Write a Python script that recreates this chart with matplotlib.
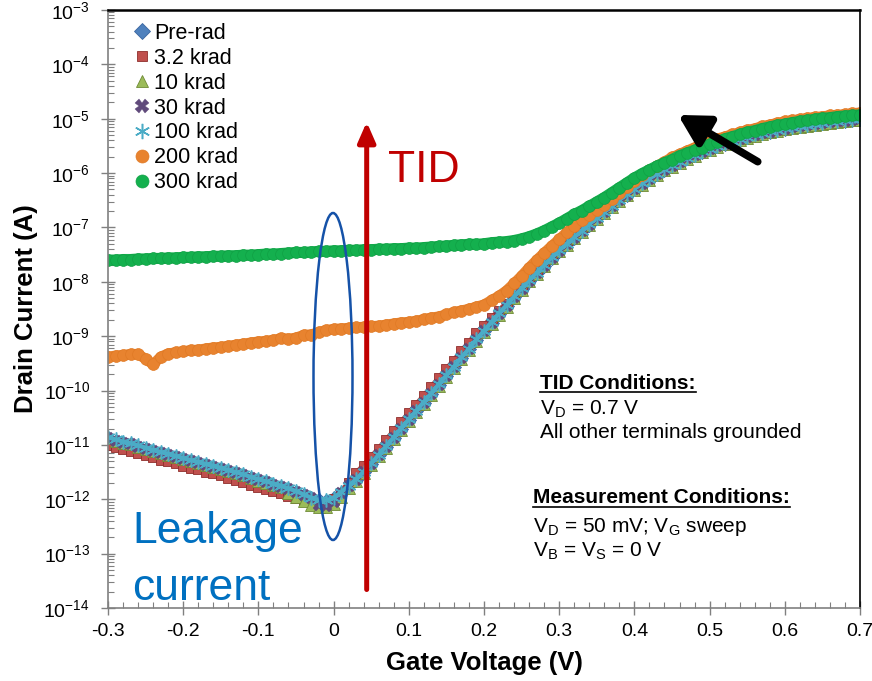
import numpy as np
import matplotlib
matplotlib.use("Agg")
import matplotlib.pyplot as plt
from matplotlib.patches import Ellipse
from matplotlib.lines import Line2D

plt.rcParams['font.family'] = ['Liberation Sans', 'DejaVu Sans']
plt.rcParams['mathtext.default'] = 'regular'

# gate voltage sweep, 10 mV steps from -0.3 V to 0.7 V
vg = np.linspace(-0.3, 0.7, 101)

# log10 of drain current (A), one value per sweep point
logI_prerad = [
    -10.88, -10.92, -10.96, -10.99, -11.03, -11.07, -11.11, -11.15, -11.18, -11.22,
    -11.26, -11.30, -11.33, -11.37, -11.40, -11.44, -11.48, -11.52, -11.56, -11.61,
    -11.65, -11.69, -11.73, -11.77, -11.82, -11.86, -11.92, -11.98, -12.02, -12.03,
    -11.98, -11.88, -11.76, -11.64, -11.50, -11.35, -11.19, -11.03, -10.87, -10.70,
    -10.54, -10.38, -10.22, -10.06, -9.89, -9.73, -9.57, -9.40, -9.24, -9.07,
    -8.91, -8.75, -8.59, -8.44, -8.28, -8.13, -7.98, -7.84, -7.70, -7.56,
    -7.43, -7.31, -7.19, -7.07, -6.95, -6.83, -6.72, -6.61, -6.50, -6.40,
    -6.30, -6.20, -6.11, -6.02, -5.94, -5.87, -5.80, -5.73, -5.67, -5.61,
    -5.56, -5.51, -5.46, -5.42, -5.38, -5.34, -5.30, -5.27, -5.24, -5.21,
    -5.18, -5.16, -5.14, -5.12, -5.10, -5.08, -5.06, -5.05, -5.04, -5.02,
    -5.01]

logI_3k2 = [
    -11.00, -11.04, -11.08, -11.11, -11.15, -11.19, -11.23, -11.27, -11.30, -11.34,
    -11.38, -11.42, -11.45, -11.49, -11.52, -11.56, -11.60, -11.64, -11.68, -11.73,
    -11.77, -11.81, -11.85, -11.89, -11.94, -11.98, -12.02, -12.04, -12.06, -12.06,
    -12.00, -11.88, -11.70, -11.52, -11.38, -11.23, -11.07, -10.91, -10.75, -10.58,
    -10.42, -10.26, -10.10, -9.94, -9.77, -9.61, -9.45, -9.28, -9.12, -8.95,
    -8.81, -8.67, -8.53, -8.40, -8.26, -8.12, -7.98, -7.84, -7.70, -7.56,
    -7.43, -7.31, -7.19, -7.07, -6.95, -6.83, -6.72, -6.61, -6.50, -6.40,
    -6.30, -6.20, -6.11, -6.02, -5.94, -5.87, -5.80, -5.73, -5.67, -5.61,
    -5.56, -5.51, -5.46, -5.42, -5.38, -5.34, -5.30, -5.27, -5.24, -5.21,
    -5.18, -5.16, -5.14, -5.12, -5.10, -5.08, -5.06, -5.05, -5.04, -5.02,
    -5.01]

logI_10k = [
    -10.88, -10.92, -10.96, -10.99, -11.03, -11.07, -11.11, -11.15, -11.18, -11.22,
    -11.26, -11.30, -11.33, -11.37, -11.40, -11.44, -11.48, -11.52, -11.56, -11.61,
    -11.66, -11.70, -11.74, -11.78, -11.88, -11.96, -12.04, -12.10, -12.14, -12.14,
    -12.08, -11.96, -11.80, -11.66, -11.52, -11.37, -11.21, -11.05, -10.89, -10.72,
    -10.56, -10.40, -10.24, -10.08, -9.91, -9.75, -9.59, -9.42, -9.26, -9.09,
    -8.93, -8.77, -8.61, -8.46, -8.30, -8.15, -7.99, -7.85, -7.71, -7.57,
    -7.44, -7.32, -7.20, -7.08, -6.96, -6.84, -6.73, -6.62, -6.51, -6.41,
    -6.31, -6.21, -6.12, -6.03, -5.95, -5.88, -5.81, -5.74, -5.68, -5.62,
    -5.57, -5.52, -5.47, -5.43, -5.39, -5.35, -5.31, -5.28, -5.25, -5.22,
    -5.19, -5.17, -5.15, -5.13, -5.11, -5.09, -5.07, -5.06, -5.05, -5.03,
    -5.02]

logI_30k = [
    -10.88, -10.92, -10.96, -10.99, -11.03, -11.07, -11.11, -11.15, -11.18, -11.22,
    -11.26, -11.30, -11.33, -11.37, -11.40, -11.44, -11.48, -11.52, -11.56, -11.61,
    -11.65, -11.69, -11.73, -11.77, -11.82, -11.86, -11.92, -11.98, -12.10, -12.12,
    -12.05, -11.88, -11.76, -11.64, -11.50, -11.35, -11.19, -11.03, -10.87, -10.70,
    -10.54, -10.38, -10.22, -10.06, -9.89, -9.73, -9.57, -9.40, -9.24, -9.07,
    -8.91, -8.75, -8.59, -8.44, -8.28, -8.13, -7.98, -7.84, -7.70, -7.56,
    -7.43, -7.31, -7.19, -7.07, -6.95, -6.83, -6.72, -6.61, -6.50, -6.40,
    -6.30, -6.20, -6.11, -6.02, -5.94, -5.87, -5.80, -5.73, -5.67, -5.61,
    -5.56, -5.51, -5.46, -5.42, -5.38, -5.34, -5.30, -5.27, -5.24, -5.21,
    -5.18, -5.16, -5.14, -5.12, -5.10, -5.08, -5.06, -5.05, -5.04, -5.02,
    -5.01]

logI_100k = [
    -10.86, -10.90, -10.94, -10.97, -11.01, -11.05, -11.09, -11.13, -11.16, -11.20,
    -11.24, -11.28, -11.31, -11.35, -11.38, -11.42, -11.46, -11.50, -11.54, -11.59,
    -11.63, -11.67, -11.71, -11.75, -11.80, -11.85, -11.91, -11.97, -12.01, -12.02,
    -11.97, -11.87, -11.75, -11.63, -11.49, -11.34, -11.18, -11.02, -10.86, -10.69,
    -10.53, -10.37, -10.21, -10.05, -9.88, -9.72, -9.56, -9.39, -9.23, -9.06,
    -8.90, -8.74, -8.58, -8.43, -8.27, -8.12, -7.97, -7.83, -7.69, -7.55,
    -7.42, -7.30, -7.18, -7.06, -6.94, -6.82, -6.71, -6.60, -6.49, -6.39,
    -6.29, -6.19, -6.10, -6.01, -5.93, -5.86, -5.79, -5.72, -5.66, -5.60,
    -5.55, -5.50, -5.45, -5.41, -5.37, -5.33, -5.29, -5.26, -5.23, -5.20,
    -5.17, -5.15, -5.13, -5.11, -5.09, -5.07, -5.05, -5.04, -5.03, -5.01,
    -5.00]

logI_200k = [
    -9.38, -9.36, -9.35, -9.33, -9.33, -9.42, -9.52, -9.38, -9.32, -9.30,
    -9.28, -9.26, -9.25, -9.23, -9.21, -9.20, -9.18, -9.16, -9.14, -9.12,
    -9.10, -9.09, -9.07, -9.04, -9.05, -9.03, -8.98, -8.97, -8.93, -8.89,
    -8.87, -8.86, -8.85, -8.84, -8.83, -8.82, -8.81, -8.79, -8.77, -8.75,
    -8.74, -8.72, -8.69, -8.66, -8.64, -8.60, -8.56, -8.53, -8.50, -8.46,
    -8.42, -8.34, -8.26, -8.16, -8.03, -7.89, -7.74, -7.60, -7.47, -7.34,
    -7.22, -7.09, -6.97, -6.87, -6.77, -6.67, -6.58, -6.47, -6.36, -6.25,
    -6.14, -6.04, -5.95, -5.87, -5.79, -5.71, -5.65, -5.59, -5.53, -5.47,
    -5.42, -5.37, -5.33, -5.29, -5.25, -5.21, -5.18, -5.14, -5.11, -5.08,
    -5.05, -5.03, -5.01, -4.99, -4.97, -4.96, -4.94, -4.93, -4.92, -4.90,
    -4.89]

logI_300k = [
    -7.60, -7.60, -7.59, -7.59, -7.58, -7.58, -7.57, -7.57, -7.56, -7.56,
    -7.55, -7.55, -7.54, -7.54, -7.53, -7.53, -7.52, -7.52, -7.51, -7.51,
    -7.50, -7.49, -7.49, -7.48, -7.47, -7.46, -7.46, -7.45, -7.44, -7.44,
    -7.43, -7.43, -7.42, -7.42, -7.41, -7.41, -7.40, -7.40, -7.39, -7.39,
    -7.38, -7.38, -7.37, -7.36, -7.35, -7.34, -7.33, -7.32, -7.31, -7.31,
    -7.30, -7.28, -7.27, -7.26, -7.24, -7.21, -7.17, -7.12, -7.06, -6.99,
    -6.92, -6.84, -6.76, -6.69, -6.61, -6.53, -6.45, -6.36, -6.27, -6.18,
    -6.09, -6.01, -5.94, -5.87, -5.81, -5.75, -5.68, -5.63, -5.58, -5.53,
    -5.47, -5.42, -5.37, -5.33, -5.29, -5.25, -5.22, -5.18, -5.15, -5.12,
    -5.10, -5.07, -5.05, -5.03, -5.01, -4.99, -4.98, -4.96, -4.95, -4.94,
    -4.93]

series_labels = ["Pre-rad", "3.2 krad", "10 krad", "30 krad", "100 krad", "200 krad", "300 krad"]
series_logI = [logI_prerad, logI_3k2, logI_10k, logI_30k, logI_100k, logI_200k, logI_300k]

xticks = [-0.3, -0.2, -0.1, 0.0, 0.1, 0.2, 0.3, 0.4, 0.5, 0.6, 0.7]
xtick_labels = ["-0.3", "-0.2", "-0.1", "0", "0.1", "0.2", "0.3", "0.4", "0.5", "0.6", "0.7"]
ytick_exps = [-14, -13, -12, -11, -10, -9, -8, -7, -6, -5, -4, -3]

# marker style plus the width of the band the dense markers form
styles = [
    dict(marker='D', ms=7, mfc='#4F81BD', mec='#3A66A0', mew=0.6, color='#4F81BD', lw=4),
    dict(marker='s', ms=7, mfc='#C0504D', mec='#8E2E2C', mew=0.6, color='#B5403D', lw=4),
    dict(marker='^', ms=8, mfc='#9BBB59', mec='#6E8A35', mew=0.6, color='#8AAA48', lw=4),
    dict(marker='X', ms=9, mfc='#604A7B', mec='#604A7B', mew=0.3, color='#6A5A88', lw=4),
    dict(marker=(6, 2, 0), ms=10, mfc='none', mec='#4BACC6', mew=1.1, color='#4BACC6', lw=3),
    dict(marker='o', ms=8.5, mfc='#E8832F', mec='#E07A25', mew=0.5, color='#E8832F', lw=7.5),
    dict(marker='o', ms=8.5, mfc='#14B04E', mec='#10A045', mew=0.5, color='#14B04E', lw=8),
]

W, H = 872, 681
fig = plt.figure(figsize=(W / 100, H / 100), dpi=100)
ax = fig.add_axes([108 / W, 1 - 608 / H, (860 - 108) / W, (608 - 10) / H])

handles = []
for lab, logI, st in zip(series_labels, series_logI, styles):
    st = dict(st)
    band_color, band_lw = st.pop('color'), st.pop('lw')
    ax.plot(vg, 10.0 ** np.array(logI), ls='-', color=band_color, lw=band_lw,
            solid_capstyle='round')
    h, = ax.plot(vg, 10.0 ** np.array(logI), ls='none', label=lab, **st)
    handles.append(h)

ax.set_yscale('log')
ax.set_xlim(-0.3, 0.7)
ax.set_ylim(1e-14, 1e-3)
ax.set_xticks(xticks)
ax.set_xticklabels(xtick_labels, fontsize=14)
ax.set_xticks(np.arange(-0.3, 0.7001, 0.02), minor=True)
ax.set_yticks([10.0 ** e for e in ytick_exps])
ax.set_yticklabels([f"$10^{{{e}}}$" for e in ytick_exps], fontsize=14)
ax.yaxis.set_minor_locator(matplotlib.ticker.LogLocator(base=10, subs=np.arange(2, 10), numticks=20))
ax.yaxis.set_minor_formatter(matplotlib.ticker.NullFormatter())

ax.tick_params(which='major', direction='inout', length=10, width=1, color='#808080')
ax.tick_params(axis='y', which='major', pad=8)
ax.tick_params(axis='x', which='major', pad=6)
ax.tick_params(which='minor', direction='in', length=4, width=0.8, color='#808080')
for side in ['left', 'bottom']:
    ax.spines[side].set_color('#808080')
    ax.spines[side].set_linewidth(1.2)
ax.spines['top'].set_linewidth(1.8)
ax.spines['right'].set_linewidth(1.2)

ax.set_xlabel("Gate Voltage (V)", fontsize=18.5, fontweight='bold')
ax.set_ylabel("Drain Current (A)", fontsize=18.5, fontweight='bold')
ax.xaxis.set_label_coords(0.5, (608 - 651) / 598)
ax.yaxis.set_label_coords((38 - 108) / 752, 0.5)

leg = ax.legend(handles=handles, loc='upper left', bbox_to_anchor=(134 / W, 1 - 23 / H),
                bbox_transform=fig.transFigure, frameon=False, fontsize=15.5,
                handlelength=0.7, handletextpad=0.25, labelspacing=0.18,
                borderpad=0, borderaxespad=0, numpoints=1, markerscale=1.1)

# red TID arrow
ax.annotate('', xy=(0.044, 10 ** -5.06), xytext=(0.044, 10 ** -13.66),
            arrowprops=dict(arrowstyle='-|>,head_width=0.35,head_length=0.8',
                            lw=3.6, color='#C00000', mutation_scale=15,
                            shrinkA=0, shrinkB=0))
fig.text(388 / W, 1 - 182 / H, "TID", color='#C00000', fontsize=32,
         ha='left', va='baseline')

# black arrow at the top right
ax.annotate('', xy=(0.458, 10 ** -4.93), xytext=(0.564, 10 ** -5.79),
            arrowprops=dict(arrowstyle='-|>,head_width=0.5,head_length=0.9',
                            lw=5.5, color='black', mutation_scale=20,
                            shrinkA=0, shrinkB=0))

# leakage ellipse and label
fig.add_artist(Ellipse((333 / W, 1 - 376.5 / H), 39 / W, 327 / H, transform=fig.transFigure,
                       fill=False, ec='#1552A8', lw=1.8))
fig.text(132 / W, 1 - 543 / H, "Leakage", color='#0070C0', fontsize=32, ha='left', va='baseline')
fig.text(132 / W, 1 - 600 / H, "current", color='#0070C0', fontsize=32, ha='left', va='baseline')

# condition notes
notes = [
    (540, 389, "TID Conditions:", 'bold', 392),
    (540, 415, "V$_D$ = 0.7 V", 'normal', None),
    (540, 438, "All other terminals grounded", 'normal', None),
    (533, 503, "Measurement Conditions:", 'bold', 507),
    (533, 532, "V$_D$ = 50 mV; V$_G$ sweep", 'normal', None),
    (533, 557, "V$_B$ = V$_S$ = 0 V", 'normal', None),
]
note_texts = []
for px, py, txt, wt, uy in notes:
    t = fig.text(px / W, 1 - py / H, txt, fontsize=15, fontweight=wt, ha='left', va='baseline')
    note_texts.append((t, uy))

fig.canvas.draw()
renderer = fig.canvas.get_renderer()
for t, uy in note_texts:
    if uy is None:
        continue
    bb = t.get_window_extent(renderer).transformed(fig.transFigure.inverted())
    fig.add_artist(Line2D([bb.x0, bb.x1], [1 - uy / H, 1 - uy / H],
                          transform=fig.transFigure, color='black', lw=1.2))

fig.savefig("out.png", dpi=100)
